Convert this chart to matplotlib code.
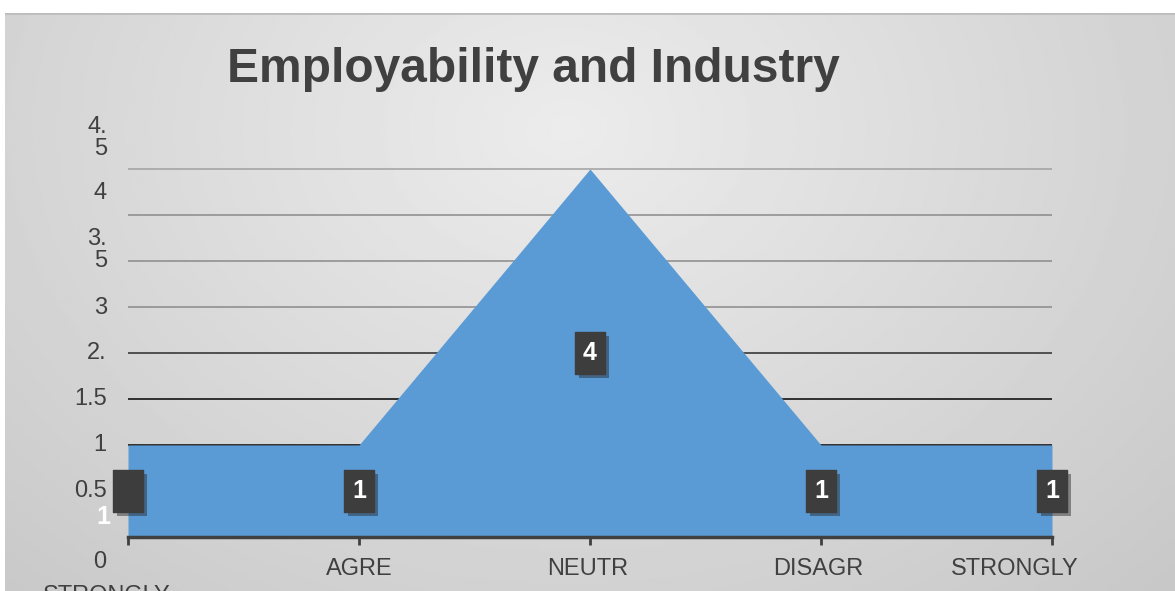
import numpy as np
import matplotlib
matplotlib.use("Agg")
import matplotlib.pyplot as plt
import matplotlib.patheffects as pe
from matplotlib.path import Path

# donnees
categories = ["STRONGLY", "AGRE", "NEUTR", "DISAGR", "STRONGLY"]
valeurs = [1, 1, 4, 1, 1]
ytick_labels = ["0", "0.5", "1", "1.5", "2.", "3", "3.\n5", "4", "4.\n5"]

# mise en page (positions des libelles, en unites de l'axe)
ytick_pos = [-0.27, 0.5, 1.0, 1.5, 2.0, 2.49, 3.12, 3.74, 4.34]
xlabel_dx = [-0.09, 0.0, -0.01, -0.01, -0.16]
xlabel_y = [-0.64, -0.35, -0.35, -0.35, -0.35]
grid_levels = [1.5, 2.0, 2.5, 3.0, 3.5, 4.0]
grid_colors = ["#303030", "#505050", "#8a8a8a", "#8a8a8a", "#8a8a8a", "#a0a0a0"]

plt.rcParams["font.family"] = ["Liberation Sans", "DejaVu Sans"]
W, H = 1175, 591
fig = plt.figure(figsize=(W / 100, H / 100), dpi=100)
fig.patch.set_facecolor("white")

# fond degrade gris
bg = fig.add_axes([5 / W, 0, 1 - 5 / W, (H - 13) / H])
yy, xx = np.mgrid[0:1:200j, 0:1:400j]
r = np.sqrt(((xx - 0.48) / 0.72) ** 2 + ((yy - 0.2) / 1.1) ** 2)
bg.imshow(0.925 - 0.14 * r, cmap="gray", vmin=0, vmax=1, aspect="auto",
          extent=[0, 1, 0, 1], origin="upper")
bg.axhline(1, color="#bdbdbd", lw=2)
bg.axis("off")

unit = 92 / H
ax = fig.add_axes([128 / W, 1 - 537 / H, 924 / W, 4.6 * unit])
ax.set_facecolor("none")
ax.set_xlim(0, 4)
ax.set_ylim(0, 4.6)
x = np.arange(len(valeurs))

for lv, c in zip(grid_levels, grid_colors):
    ax.axhline(lv, color=c, lw=1.4 if lv <= 2 else 1.1, zorder=1)
ax.axhline(1.0, color="#303030", lw=1.4, zorder=1)

ax.fill_between(x, valeurs, 0, color="#5B9BD5", lw=0, zorder=2)

for s in ["top", "right", "left"]:
    ax.spines[s].set_visible(False)
ax.spines["bottom"].set_color("#404040")
ax.spines["bottom"].set_linewidth(2.5)
ax.spines["bottom"].set_zorder(4)
ax.set_xticks(x)
ax.set_xticklabels([])
ax.tick_params(axis="x", direction="out", length=6, width=2, color="#404040")
ax.set_yticks([])

ytr = ax.get_yaxis_transform()
for p, lab in zip(ytick_pos, ytick_labels):
    ax.text(-0.023, p, lab, transform=ytr, ha="right", va="center",
            fontsize=17, color="#404040", linespacing=1.0, clip_on=False)

xtr = ax.get_xaxis_transform()
for i, lab in enumerate(categories):
    ax.text(x[i] + xlabel_dx[i], xlabel_y[i] / 4.6, lab, transform=xtr,
            ha="center", va="center", fontsize=17, color="#404040",
            clip_on=False)

# etiquettes de donnees
box = Path([(-0.36, -0.5), (0.36, -0.5), (0.36, 0.5), (-0.36, 0.5), (-0.36, -0.5)],
           [Path.MOVETO, Path.LINETO, Path.LINETO, Path.LINETO, Path.CLOSEPOLY])
mid = [v / 2 for v in valeurs]
ax.plot(x, mid, ls="none", marker=box, markersize=30.5, color="#3d3d3d",
        mec="#3d3d3d", zorder=5, clip_on=False,
        path_effects=[pe.SimplePatchShadow(offset=(3, -3), alpha=0.45, rho=0.6),
                      pe.Normal()])
for i, v in enumerate(valeurs):
    if i == 0:
        ax.annotate(str(v), (x[i], mid[i]), xytext=(-18, -19), textcoords="offset points",
                    ha="center", va="center", fontsize=18, fontweight="bold",
                    color="white", zorder=6, annotation_clip=False)
    else:
        ax.text(x[i], mid[i], str(v), ha="center", va="center", fontsize=18,
                fontweight="bold", color="white", zorder=6)

fig.text(533 / W, 1 - 69 / H, "Employability and Industry", ha="center", va="center",
         fontsize=34.5, fontweight="bold", color="#404040")

fig.savefig("out.png", dpi=100)
